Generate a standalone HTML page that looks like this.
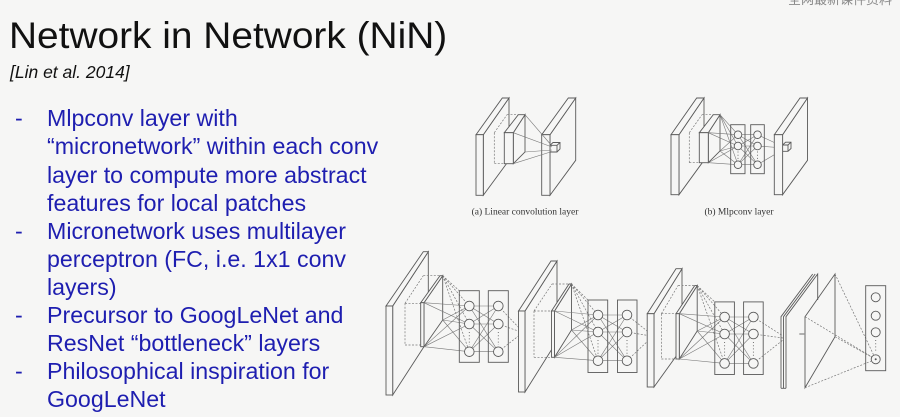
<!DOCTYPE html>
<html>
<head>
<meta charset="utf-8">
<style>
  html, body { margin:0; padding:0; }
  body { width:900px; height:417px; background:#f6f6f5; position:relative; overflow:hidden;
         font-family:"Liberation Sans", Arial, sans-serif; }
  .title { position:absolute; left:9px; top:16.6px; font-size:37px; line-height:37px; color:#111; white-space:nowrap;
           transform:scaleX(1.05); transform-origin:0 0; }
  .sub { position:absolute; left:10px; top:64px; font-size:17.5px; line-height:17.5px; font-style:italic; color:#111; white-space:nowrap; }
  .body { position:absolute; left:0; top:104.4px; color:#1e1eb0; font-size:23.2px; line-height:28.1px; }
  .ln { position:relative; height:28.1px; white-space:nowrap; padding-left:47px; }
  .dash { position:absolute; left:15px; top:0; }
  .corner { position:absolute; left:788px; top:-11px; font-size:13px; color:#8a8a8a;
            font-family:"Liberation Sans","Noto Sans CJK SC",sans-serif; white-space:nowrap; }
  svg { position:absolute; left:0; top:0; }
</style>
</head>
<body>
<div class="corner">全网最新课件资料</div>
<div class="title">Network in Network (NiN)</div>
<div class="sub">[Lin et al. 2014]</div>
<div class="body">
  <div class="ln"><span class="dash">-</span>Mlpconv layer with</div>
  <div class="ln">“micronetwork” within each conv</div>
  <div class="ln">layer to compute more abstract</div>
  <div class="ln">features for local patches</div>
  <div class="ln"><span class="dash">-</span>Micronetwork uses multilayer</div>
  <div class="ln">perceptron (FC, i.e. 1x1 conv</div>
  <div class="ln">layers)</div>
  <div class="ln"><span class="dash">-</span>Precursor to GoogLeNet and</div>
  <div class="ln">ResNet “bottleneck” layers</div>
  <div class="ln"><span class="dash">-</span>Philosophical inspiration for</div>
  <div class="ln">GoogLeNet</div>
</div>

<svg width="900" height="417" viewBox="0 0 900 417" xmlns="http://www.w3.org/2000/svg">
  <defs>
    <style>
      .s { stroke:#5a5a5a; stroke-width:0.9; fill:#f6f6f5; }
      .n { stroke:#5a5a5a; stroke-width:0.9; fill:none; }
      .c { stroke:#777; stroke-width:0.6; fill:none; }
      .d { stroke:#777; stroke-width:0.7; fill:none; stroke-dasharray:2 1.5; }
      .dot { stroke:#666; stroke-width:0.9; fill:none; stroke-dasharray:1 2.2; }
      .cap { font-family:"Liberation Serif", "Times New Roman", serif; font-size:9.5px; fill:#333; }
    </style>
  </defs>

  <!-- ===== (a) Linear convolution layer ===== -->
  <g>
    <polygon class="s" points="483.3,134.7 509,98 509,160.3 483.3,195.3"/>
    <polygon class="s" points="476,134.7 502.3,98 509,98 483.3,134.7"/>
    <rect class="s" x="476" y="134.7" width="7.3" height="60.6"/>
    <line class="d" x1="494.3" y1="132.7" x2="494.3" y2="163.7"/>
    <line class="d" x1="494.3" y1="163.7" x2="504.3" y2="163.7"/>
    <line class="d" x1="494.3" y1="132.7" x2="507" y2="114.7"/>
    <line class="d" x1="507" y1="114.7" x2="518.3" y2="114.7"/>
    <polygon class="s" points="513.3,132.7 525,114.7 525,152 513.3,163.7"/>
    <polygon class="s" points="504.3,132.7 518.3,114.7 525,114.7 513.3,132.7"/>
    <rect class="s" x="504.3" y="132.7" width="9" height="31"/>
    <polygon class="s" points="550,134.7 575.7,98 575.7,160.3 550,195.3"/>
    <polygon class="s" points="541.7,134.7 568.3,98 575.7,98 550,134.7"/>
    <rect class="s" x="541.7" y="134.7" width="8.3" height="60.6"/>
    <line class="c" x1="525" y1="114.7" x2="552" y2="146"/>
    <line class="c" x1="525" y1="152" x2="552" y2="150"/>
    <line class="c" x1="513.3" y1="132.7" x2="552" y2="147"/>
    <line class="c" x1="513.3" y1="163.7" x2="552" y2="151.5"/>
    <polyline class="n" points="550,145.3 553,142.5 560,142.5 560,149 557,152 550,152"/>
    <polyline class="n" points="550,145.3 557,145.3 557,152"/>
    <line class="n" x1="557" y1="145.3" x2="560" y2="142.5"/>
    <text class="cap" x="525" y="214.5" text-anchor="middle">(a) Linear convolution layer</text>
  </g>

  <!-- ===== (b) Mlpconv layer ===== -->
  <g>
    <polygon class="s" points="679,134.7 704,98 704,160.3 679,194.7"/>
    <polygon class="s" points="671,134.7 696.7,98 704,98 679,134.7"/>
    <rect class="s" x="671" y="134.7" width="8" height="60"/>
    <line class="d" x1="689.3" y1="132.7" x2="689.3" y2="162.7"/>
    <line class="d" x1="689.3" y1="162.7" x2="699.3" y2="162.7"/>
    <line class="d" x1="689.3" y1="132.7" x2="702" y2="114.7"/>
    <line class="d" x1="702" y1="114.7" x2="713.3" y2="114.7"/>
    <polygon class="s" points="708.3,132.7 720,114.7 720,151 708.3,162.7"/>
    <polygon class="s" points="699.3,132.7 713.3,114.7 720,114.7 708.3,132.7"/>
    <rect class="s" x="699.3" y="132.7" width="9" height="30"/>
    <line class="c" x1="720" y1="114.7" x2="738" y2="134.7"/>
    <line class="c" x1="720" y1="114.7" x2="738" y2="146"/>
    <line class="c" x1="720" y1="114.7" x2="738" y2="164.7"/>
    <line class="c" x1="720" y1="151" x2="738" y2="134.7"/>
    <line class="c" x1="720" y1="151" x2="738" y2="146"/>
    <line class="c" x1="720" y1="151" x2="738" y2="164.7"/>
    <line class="c" x1="708.3" y1="132.7" x2="738" y2="134.7"/>
    <line class="c" x1="708.3" y1="132.7" x2="738" y2="146"/>
    <line class="c" x1="708.3" y1="162.7" x2="738" y2="146"/>
    <line class="c" x1="708.3" y1="162.7" x2="738" y2="164.7"/>
    <line class="c" x1="738" y1="134.7" x2="757.5" y2="134.7"/>
    <line class="c" x1="738" y1="134.7" x2="757.5" y2="146"/>
    <line class="c" x1="738" y1="134.7" x2="757.5" y2="164.7"/>
    <line class="c" x1="738" y1="146" x2="757.5" y2="134.7"/>
    <line class="c" x1="738" y1="146" x2="757.5" y2="146"/>
    <line class="c" x1="738" y1="146" x2="757.5" y2="164.7"/>
    <line class="c" x1="738" y1="164.7" x2="757.5" y2="134.7"/>
    <line class="c" x1="738" y1="164.7" x2="757.5" y2="146"/>
    <line class="c" x1="738" y1="164.7" x2="757.5" y2="164.7"/>
    <line class="c" x1="757.5" y1="134.7" x2="784" y2="147"/>
    <line class="c" x1="757.5" y1="146" x2="784" y2="148"/>
    <line class="c" x1="757.5" y1="164.7" x2="784" y2="149"/>
    <rect class="n" x="730.7" y="124.7" width="14.3" height="49"/>
    <rect class="n" x="750.7" y="124.7" width="13.6" height="49"/>
    <circle class="s" cx="738" cy="134.7" r="3.8"/>
    <circle class="s" cx="738" cy="146" r="3.8"/>
    <circle class="s" cx="738" cy="164.7" r="3.8"/>
    <circle class="s" cx="757.5" cy="134.7" r="3.8"/>
    <circle class="s" cx="757.5" cy="146" r="3.8"/>
    <circle class="s" cx="757.5" cy="164.7" r="3.8"/>
    <line class="dot" x1="738" y1="151.5" x2="738" y2="160"/>
    <line class="dot" x1="757.5" y1="151.5" x2="757.5" y2="160"/>
    <polygon class="s" points="782.6,134.7 807.5,98 807.5,160.3 782.6,194.7"/>
    <polygon class="s" points="774.3,134.7 800,98 807.5,98 782.6,134.7"/>
    <rect class="s" x="774.3" y="134.7" width="8.3" height="60"/>
    <polyline class="n" points="782.6,145 785.6,142.2 791,142.2 791,148.5 788,151.3 782.6,151.3"/>
    <polyline class="n" points="782.6,145 788,145 788,151.3"/>
    <line class="n" x1="788" y1="145" x2="791" y2="142.2"/>
    <text class="cap" x="739" y="214.5" text-anchor="middle">(b) Mlpconv layer</text>
  </g>

  <!-- ===== Bottom NiN ===== -->
  <g>
    <polygon class="s" points="392.7,306 428.3,251.7 428.3,340 392.7,395"/>
    <polygon class="s" points="386,306 423.3,251.7 428.3,251.7 392.7,306"/>
    <rect class="s" x="386" y="306" width="6.7" height="89"/>
    <line class="d" x1="405" y1="303.3" x2="405" y2="345"/>
    <line class="d" x1="405" y1="303.3" x2="420.7" y2="303.3"/>
    <line class="d" x1="405" y1="345" x2="420.7" y2="345"/>
    <line class="d" x1="405" y1="303.3" x2="423.3" y2="275.7"/>
    <line class="d" x1="423.3" y1="275.7" x2="440" y2="275.7"/>
    <polygon class="s" points="424,302.7 442.7,275.7 442.7,320 424,346.7"/>
    <polygon class="s" points="420.7,302.7 440,275.7 442.7,275.7 424,302.7"/>
    <rect class="s" x="420.7" y="302.7" width="3.3" height="44"/>
    <line class="d" x1="442.7" y1="275.7" x2="469.3" y2="306"/>
    <line class="d" x1="442.7" y1="275.7" x2="469.3" y2="324"/>
    <line class="d" x1="442.7" y1="275.7" x2="469.3" y2="351.7"/>
    <line class="d" x1="442.7" y1="275.7" x2="459.3" y2="290.7"/>
    <line class="c" x1="442.7" y1="320" x2="469.3" y2="306"/>
    <line class="c" x1="442.7" y1="320" x2="469.3" y2="324"/>
    <line class="c" x1="442.7" y1="320" x2="469.3" y2="351.7"/>
    <line class="c" x1="424" y1="302.7" x2="469.3" y2="306"/>
    <line class="c" x1="424" y1="302.7" x2="469.3" y2="324"/>
    <line class="c" x1="424" y1="346.7" x2="469.3" y2="306"/>
    <line class="c" x1="424" y1="346.7" x2="469.3" y2="324"/>
    <line class="c" x1="424" y1="346.7" x2="469.3" y2="351.7"/>
    <line class="c" x1="469.3" y1="306" x2="498.3" y2="306"/>
    <line class="c" x1="469.3" y1="306" x2="498.3" y2="324"/>
    <line class="c" x1="469.3" y1="306" x2="498.3" y2="351.7"/>
    <line class="c" x1="469.3" y1="324" x2="498.3" y2="306"/>
    <line class="c" x1="469.3" y1="324" x2="498.3" y2="324"/>
    <line class="c" x1="469.3" y1="324" x2="498.3" y2="351.7"/>
    <line class="c" x1="469.3" y1="351.7" x2="498.3" y2="306"/>
    <line class="c" x1="469.3" y1="351.7" x2="498.3" y2="324"/>
    <line class="c" x1="469.3" y1="351.7" x2="498.3" y2="351.7"/>
    <line class="d" x1="498.3" y1="306" x2="521" y2="330"/>
    <line class="d" x1="498.3" y1="324" x2="521" y2="332"/>
    <line class="d" x1="498.3" y1="351.7" x2="521" y2="334"/>
    <rect class="n" x="459.3" y="290.7" width="20" height="71.6"/>
    <rect class="n" x="488.3" y="290.7" width="20" height="71.6"/>
    <circle class="s" cx="469.3" cy="306" r="4.8"/>
    <circle class="s" cx="469.3" cy="324" r="4.8"/>
    <circle class="s" cx="469.3" cy="351.7" r="4.8"/>
    <circle class="s" cx="498.3" cy="306" r="4.8"/>
    <circle class="s" cx="498.3" cy="324" r="4.8"/>
    <circle class="s" cx="498.3" cy="351.7" r="4.8"/>
    <line class="dot" x1="469.3" y1="332" x2="469.3" y2="345"/>
    <line class="dot" x1="498.3" y1="332" x2="498.3" y2="345"/>
  </g>

  <g>
    <polygon class="s" points="525,311 557,261 557,341 525,392"/>
    <polygon class="s" points="518.5,311 551,261 557,261 525,311"/>
    <rect class="s" x="518.5" y="311" width="6.5" height="81"/>
    <line class="d" x1="534" y1="311" x2="534" y2="357.3"/>
    <line class="d" x1="534" y1="311" x2="551.5" y2="311"/>
    <line class="d" x1="534" y1="357.3" x2="551.5" y2="357.3"/>
    <line class="d" x1="534" y1="311" x2="552" y2="284"/>
    <line class="d" x1="552" y1="284" x2="569" y2="284"/>
    <polygon class="s" points="554.5,311 571.5,284 571.5,330 554.5,357.3"/>
    <polygon class="s" points="551.5,311 569,284 571.5,284 554.5,311"/>
    <rect class="s" x="551.5" y="311" width="3" height="46.3"/>
    <line class="d" x1="571.5" y1="284" x2="598" y2="315"/>
    <line class="d" x1="571.5" y1="284" x2="598" y2="332"/>
    <line class="d" x1="571.5" y1="284" x2="598" y2="360.7"/>
    <line class="d" x1="571.5" y1="284" x2="588" y2="300"/>
    <line class="c" x1="571.5" y1="330" x2="598" y2="315"/>
    <line class="c" x1="571.5" y1="330" x2="598" y2="332"/>
    <line class="c" x1="571.5" y1="330" x2="598" y2="360.7"/>
    <line class="c" x1="554.5" y1="311" x2="598" y2="315"/>
    <line class="c" x1="554.5" y1="311" x2="598" y2="332"/>
    <line class="c" x1="554.5" y1="357.3" x2="598" y2="315"/>
    <line class="c" x1="554.5" y1="357.3" x2="598" y2="332"/>
    <line class="c" x1="554.5" y1="357.3" x2="598" y2="360.7"/>
    <line class="c" x1="598" y1="315" x2="627" y2="315"/>
    <line class="c" x1="598" y1="315" x2="627" y2="332"/>
    <line class="c" x1="598" y1="315" x2="627" y2="360.7"/>
    <line class="c" x1="598" y1="332" x2="627" y2="315"/>
    <line class="c" x1="598" y1="332" x2="627" y2="332"/>
    <line class="c" x1="598" y1="332" x2="627" y2="360.7"/>
    <line class="c" x1="598" y1="360.7" x2="627" y2="315"/>
    <line class="c" x1="598" y1="360.7" x2="627" y2="332"/>
    <line class="c" x1="598" y1="360.7" x2="627" y2="360.7"/>
    <line class="d" x1="627" y1="315" x2="651" y2="334"/>
    <line class="d" x1="627" y1="332" x2="651" y2="336"/>
    <line class="d" x1="627" y1="360.7" x2="651" y2="338"/>
    <rect class="n" x="588" y="300" width="19.7" height="72.5"/>
    <rect class="n" x="617.5" y="300" width="19.5" height="72.5"/>
    <circle class="s" cx="598" cy="315" r="4.8"/>
    <circle class="s" cx="598" cy="332" r="4.8"/>
    <circle class="s" cx="598" cy="360.7" r="4.8"/>
    <circle class="s" cx="627" cy="315" r="4.8"/>
    <circle class="s" cx="627" cy="332" r="4.8"/>
    <circle class="s" cx="627" cy="360.7" r="4.8"/>
    <line class="dot" x1="598" y1="340" x2="598" y2="354"/>
    <line class="dot" x1="627" y1="340" x2="627" y2="354"/>
  </g>

  <g>
    <polygon class="s" points="654,313.7 682,268.7 682,348 654,387"/>
    <polygon class="s" points="647.2,313.7 676,268.7 682,268.7 654,313.7"/>
    <rect class="s" x="647.2" y="313.7" width="6.8" height="73.3"/>
    <line class="d" x1="661.4" y1="313.7" x2="661.4" y2="359"/>
    <line class="d" x1="661.4" y1="313.7" x2="676" y2="313.7"/>
    <line class="d" x1="661.4" y1="359" x2="676" y2="359"/>
    <line class="d" x1="661.4" y1="313.7" x2="678" y2="285.6"/>
    <line class="d" x1="678" y1="285.6" x2="694.7" y2="285.6"/>
    <polygon class="s" points="679.3,313.7 697.2,285.6 697.2,331 679.3,359"/>
    <polygon class="s" points="676,313.7 694.7,285.6 697.2,285.6 679.3,313.7"/>
    <rect class="s" x="676" y="313.7" width="3.3" height="45.3"/>
    <line class="d" x1="697.2" y1="285.6" x2="724.6" y2="317"/>
    <line class="d" x1="697.2" y1="285.6" x2="724.6" y2="334"/>
    <line class="d" x1="697.2" y1="285.6" x2="724.6" y2="363.4"/>
    <line class="d" x1="697.2" y1="285.6" x2="714.8" y2="301.9"/>
    <line class="c" x1="697.2" y1="331" x2="724.6" y2="317"/>
    <line class="c" x1="697.2" y1="331" x2="724.6" y2="334"/>
    <line class="c" x1="697.2" y1="331" x2="724.6" y2="363.4"/>
    <line class="c" x1="679.3" y1="313.7" x2="724.6" y2="317"/>
    <line class="c" x1="679.3" y1="313.7" x2="724.6" y2="334"/>
    <line class="c" x1="679.3" y1="359" x2="724.6" y2="317"/>
    <line class="c" x1="679.3" y1="359" x2="724.6" y2="334"/>
    <line class="c" x1="679.3" y1="359" x2="724.6" y2="363.4"/>
    <line class="c" x1="724.6" y1="317" x2="753.4" y2="317"/>
    <line class="c" x1="724.6" y1="317" x2="753.4" y2="334"/>
    <line class="c" x1="724.6" y1="317" x2="753.4" y2="363.4"/>
    <line class="c" x1="724.6" y1="334" x2="753.4" y2="317"/>
    <line class="c" x1="724.6" y1="334" x2="753.4" y2="334"/>
    <line class="c" x1="724.6" y1="334" x2="753.4" y2="363.4"/>
    <line class="c" x1="724.6" y1="363.4" x2="753.4" y2="317"/>
    <line class="c" x1="724.6" y1="363.4" x2="753.4" y2="334"/>
    <line class="c" x1="724.6" y1="363.4" x2="753.4" y2="363.4"/>
    <line class="d" x1="753.4" y1="317" x2="783" y2="336"/>
    <line class="d" x1="753.4" y1="334" x2="783" y2="338"/>
    <line class="d" x1="753.4" y1="363.4" x2="783" y2="340"/>
    <rect class="n" x="714.8" y="301.9" width="19.6" height="72.6"/>
    <rect class="n" x="743.6" y="301.9" width="19.6" height="72.6"/>
    <circle class="s" cx="724.6" cy="317" r="4.8"/>
    <circle class="s" cx="724.6" cy="334" r="4.8"/>
    <circle class="s" cx="724.6" cy="363.4" r="4.8"/>
    <circle class="s" cx="753.4" cy="317" r="4.8"/>
    <circle class="s" cx="753.4" cy="334" r="4.8"/>
    <circle class="s" cx="753.4" cy="363.4" r="4.8"/>
    <line class="dot" x1="724.6" y1="342" x2="724.6" y2="356.5"/>
    <line class="dot" x1="753.4" y1="342" x2="753.4" y2="356.5"/>
  </g>

  <g>
    <polyline class="n" points="781,388.3 781,316.7 812.7,274"/>
    <polyline class="n" points="783.5,388.3 783.5,316.7 815.2,274"/>
    <polyline class="n" points="786,388.3 786,316.7 817.7,274 817.7,300"/>
    <line class="n" x1="781" y1="388.3" x2="786" y2="388.3"/>
    <line class="n" x1="799.3" y1="334" x2="804.3" y2="334"/>
    <polygon class="n" points="805,316.7 835,274 835,336.7 805,387.7"/>
    <line class="d" x1="835" y1="274" x2="875.7" y2="359.3"/>
    <line class="d" x1="805" y1="316.7" x2="875.7" y2="359.3"/>
    <line class="d" x1="835" y1="336.7" x2="875.7" y2="359.3"/>
    <line class="d" x1="805" y1="387.7" x2="875.7" y2="359.3"/>
    <rect class="n" x="865.7" y="285.7" width="20" height="85"/>
    <circle class="s" cx="875.7" cy="297.3" r="4.5"/>
    <circle class="s" cx="875.7" cy="315.7" r="4.5"/>
    <circle class="s" cx="875.7" cy="332.3" r="4.5"/>
    <circle class="s" cx="875.7" cy="359.3" r="4.5"/>
    <circle cx="875.7" cy="359.3" r="1" fill="#555"/>
    <line class="dot" x1="875.7" y1="340" x2="875.7" y2="352"/>
  </g>
</svg>
</body>
</html>
